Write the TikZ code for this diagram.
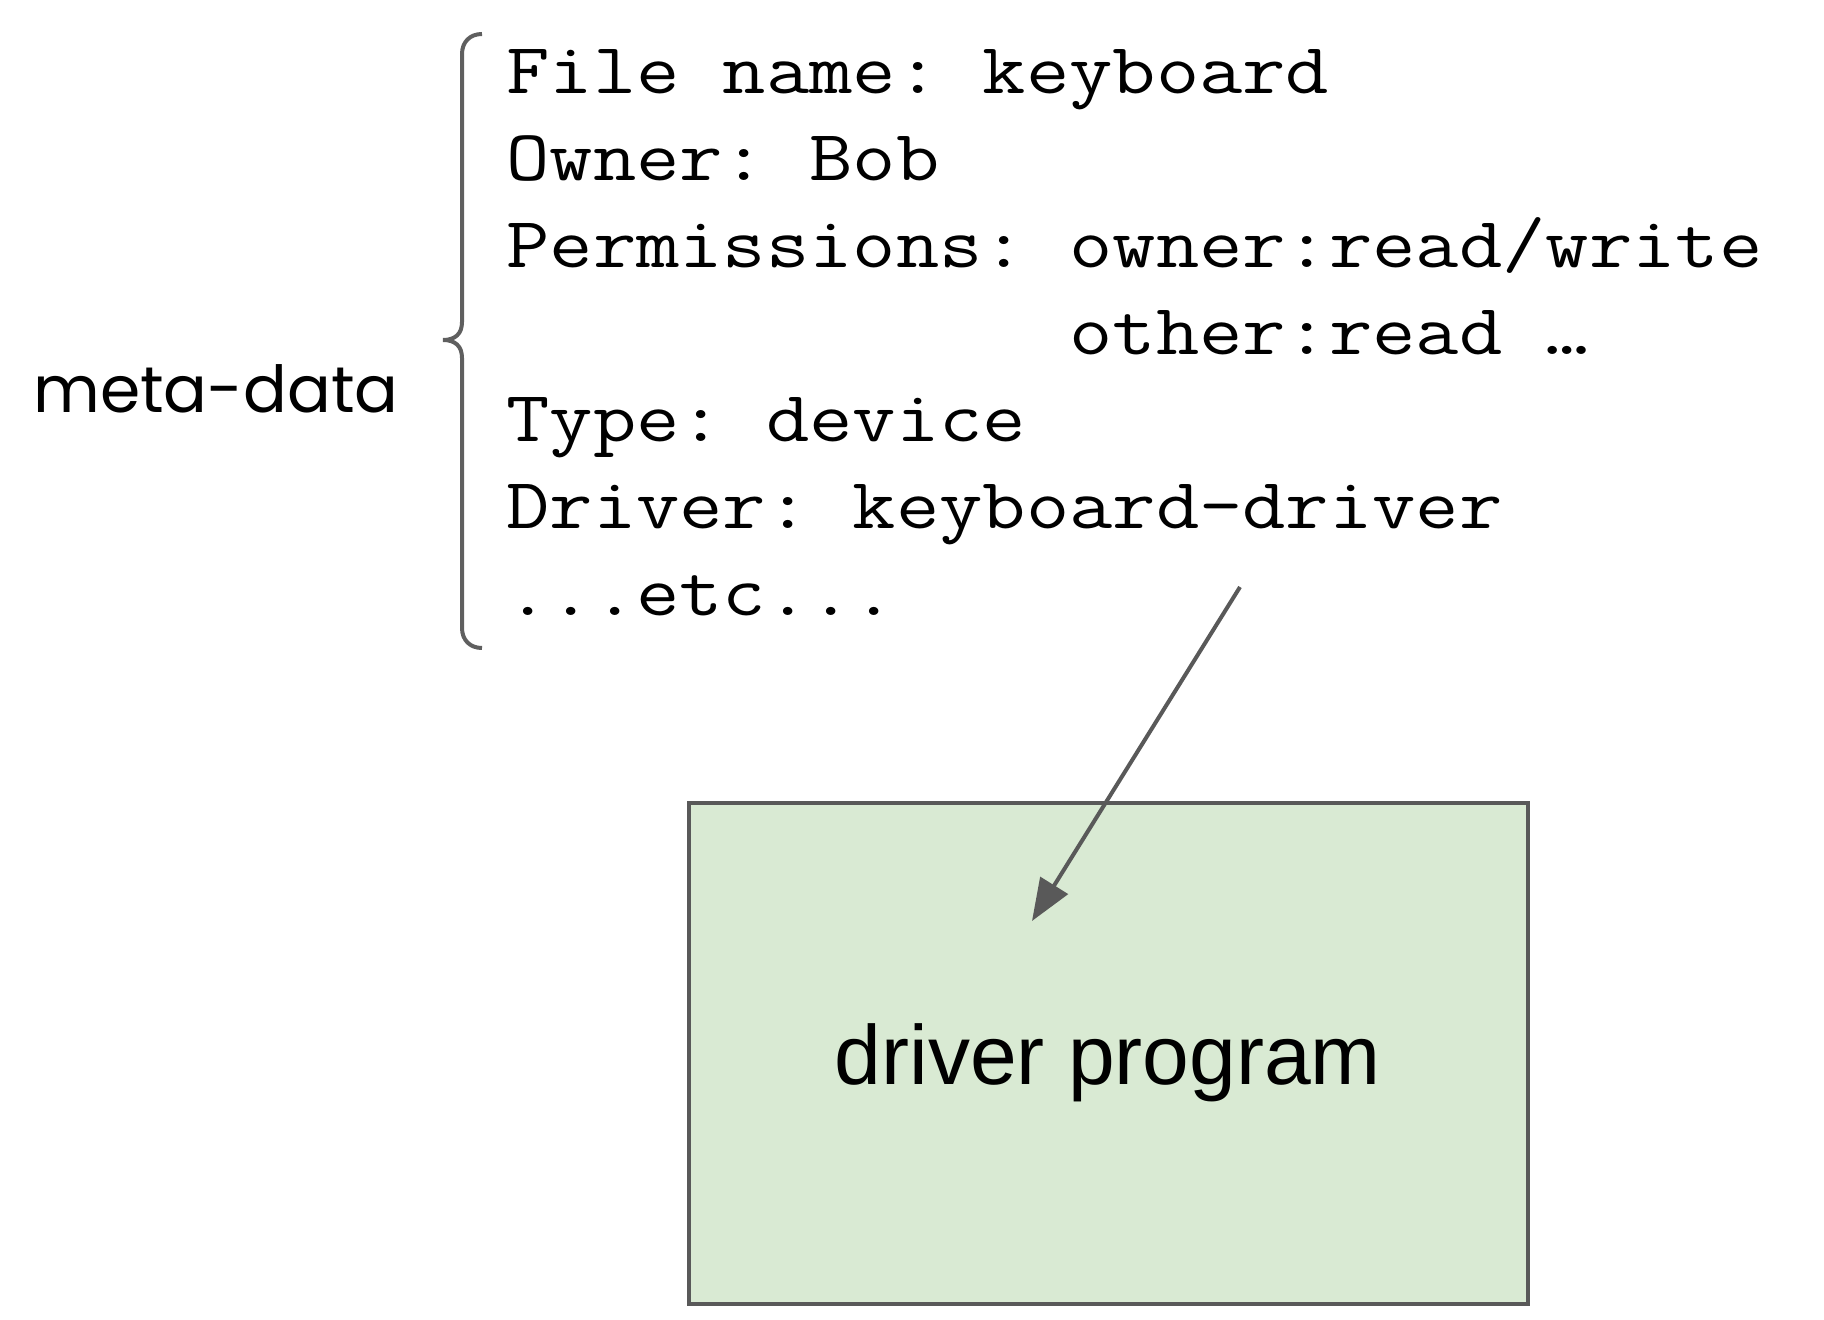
\documentclass[tikz,border=0pt]{standalone}
\usepackage{fontspec}
\setmainfont{Liberation Sans}
\newfontfamily\monof[FakeStretch=1.168]{Latin Modern Mono}
\newfontfamily\handf{Poppins}
\usetikzlibrary{arrows.meta}
\definecolor{edgegray}{HTML}{595959}
\definecolor{bracegray}{HTML}{5F5F5F}
\definecolor{boxgreen}{HTML}{D9EAD3}
\frenchspacing
\begin{document}
\begin{tikzpicture}[x=0.5pt,y=-0.5pt,
  mline/.style={anchor=base west, inner sep=0pt, font=\monof\fontsize{36}{43}\selectfont},
  handlabel/.style={anchor=base west, inner sep=0pt, font=\handf\fontsize{32.4}{40}\selectfont},
  progbox/.style={draw=edgegray, fill=boxgreen, line width=2pt, inner sep=0pt,
    minimum width=419.75pt, minimum height=250.5pt},
  progtext/.style={anchor=base, inner sep=0pt, font=\fontsize{42}{50}\selectfont},
  conn/.style={draw=edgegray, line width=2pt, -{Triangle[length=21pt,width=16pt]}},
  bracestyle/.style={draw=bracegray, line width=2pt}]
\useasboundingbox (0,0) rectangle (1824,1320);
% box
\node[progbox] (box) at (1108.25,1053.5) {};
\node[progtext] (prog) at (1108,1084) {driver program};
% metadata lines
\node[mline] (l1) at (506,94) {File name: keyboard};
\node[mline] (l2) at (506,181) {Owner: Bob};
\node[mline] (l3) at (506,268) {Permissions: owner:read/write};
\node[mline] (l4) at (506,355) {\hphantom{Permissions: }other:read …};
\node[mline] (l5) at (506,442) {Type: device};
\node[mline] (l6) at (506,528) {Driver: keyboard-driver};
\node[mline] (l7) at (506,615) {...etc...};
% label
\node[handlabel] (meta) at (33,413) {meta-data};
% brace
\draw[bracestyle] (482,34) .. controls (470,34) and (462,42) .. (462,54)
  -- (462,322) .. controls (462,334) and (455,340) .. (443,340)
  .. controls (455,340) and (462,346) .. (462,358)
  -- (462,628) .. controls (462,640) and (470,648) .. (482,648);
% arrow
\coordinate (astart) at (1240,587);
\coordinate (atip) at (1032,921);
\draw[conn] (astart) -- (atip);
\end{tikzpicture}
\end{document}
